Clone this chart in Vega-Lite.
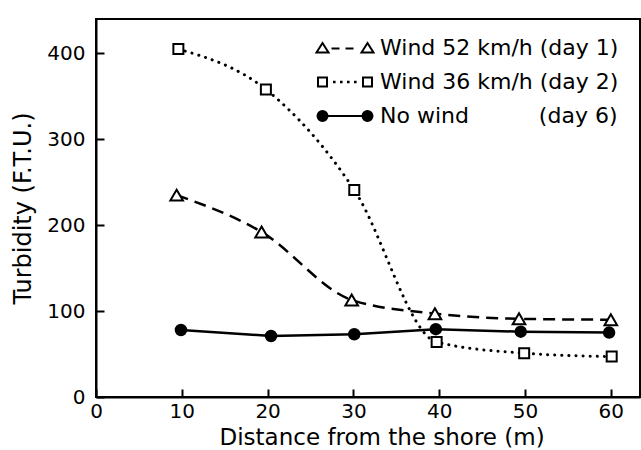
{
  "$schema": "https://vega.github.io/schema/vega-lite/v6.json",
  "width": 544,
  "height": 378,
  "autosize": {"type": "none"},
  "padding": {"left": 96, "top": 19, "right": 1, "bottom": 53},
  "background": "white",
  "config": {
    "view": {"stroke": "black", "strokeWidth": 2},
    "font": "DejaVu Sans",
    "axis": {
      "domainColor": "black",
      "domainWidth": 2,
      "tickColor": "black",
      "tickWidth": 2,
      "tickSize": -8,
      "grid": false,
      "labelColor": "black",
      "labelFont": "DejaVu Sans",
      "labelFontSize": 20,
      "labelFlush": false,
      "labelOverlap": false,
      "titleColor": "black",
      "titleFont": "DejaVu Sans",
      "titleFontSize": 23,
      "titleFontWeight": "normal"
    },
    "legend": {
      "orient": "none",
      "legendX": 238,
      "legendY": 18,
      "padding": 0,
      "labelFont": "DejaVu Sans",
      "labelFontSize": 22,
      "labelColor": "black",
      "labelLimit": 0,
      "labelOffset": 24,
      "rowPadding": 12,
      "symbolSize": 400,
      "symbolOpacity": 1,
      "symbolStrokeWidth": 2
    }
  },
  "data": {
    "values": [
      {"series": "Wind 52 km/h (day 1)", "distance": 9.4, "turbidity": 235},
      {"series": "Wind 52 km/h (day 1)", "distance": 19.3, "turbidity": 192},
      {"series": "Wind 52 km/h (day 1)", "distance": 29.8, "turbidity": 113},
      {"series": "Wind 52 km/h (day 1)", "distance": 39.5, "turbidity": 97},
      {"series": "Wind 52 km/h (day 1)", "distance": 49.3, "turbidity": 91},
      {"series": "Wind 52 km/h (day 1)", "distance": 60.0, "turbidity": 90},
      {"series": "Wind 36 km/h (day 2)", "distance": 9.6, "turbidity": 405},
      {"series": "Wind 36 km/h (day 2)", "distance": 19.8, "turbidity": 358},
      {"series": "Wind 36 km/h (day 2)", "distance": 30.1, "turbidity": 241},
      {"series": "Wind 36 km/h (day 2)", "distance": 39.7, "turbidity": 64},
      {"series": "Wind 36 km/h (day 2)", "distance": 49.9, "turbidity": 51},
      {"series": "Wind 36 km/h (day 2)", "distance": 60.1, "turbidity": 47},
      {"series": "No wind (day 6)", "distance": 9.9, "turbidity": 78},
      {"series": "No wind (day 6)", "distance": 20.4, "turbidity": 71},
      {"series": "No wind (day 6)", "distance": 30.1, "turbidity": 73},
      {"series": "No wind (day 6)", "distance": 39.6, "turbidity": 79},
      {"series": "No wind (day 6)", "distance": 49.5, "turbidity": 76},
      {"series": "No wind (day 6)", "distance": 59.8, "turbidity": 75}
    ]
  },
  "encoding": {
    "x": {
      "field": "distance",
      "type": "quantitative",
      "scale": {"domain": [0, 63.4], "nice": false, "zero": false},
      "axis": {"title": "Distance from the shore (m)", "values": [0, 10, 20, 30, 40, 50, 60], "labelPadding": 12, "titlePadding": 5, "titleFontSize": 23, "titleAnchor": "start", "titleAlign": "left", "titleX": 123}
    },
    "y": {
      "field": "turbidity",
      "type": "quantitative",
      "scale": {"domain": [0, 440], "nice": false, "zero": false},
      "axis": {"title": "Turbidity (F.T.U.)", "values": [0, 100, 200, 300, 400], "labelPadding": 19, "titlePadding": 11, "titleFontSize": 24}
    }
  },
  "layer": [
    {
      "transform": [{"filter": "datum.series == 'Wind 52 km/h (day 1)'"}],
      "mark": {"type": "line", "interpolate": "monotone", "color": "black", "strokeWidth": 2.5, "strokeDash": [12, 7]}
    },
    {
      "transform": [{"filter": "datum.series == 'Wind 36 km/h (day 2)'"}],
      "mark": {"type": "line", "interpolate": "monotone", "color": "black", "strokeWidth": 3, "strokeDash": [0.1, 7], "strokeCap": "round"}
    },
    {
      "transform": [{"filter": "datum.series == 'No wind (day 6)'"}],
      "mark": {"type": "line", "color": "black", "strokeWidth": 2.5}
    },
    {
      "transform": [{"filter": "datum.series == 'Wind 52 km/h (day 1)'"}],
      "mark": {"type": "point", "shape": "triangle-up", "size": 160, "filled": true, "fill": "white", "stroke": "black", "strokeWidth": 2, "opacity": 1}
    },
    {
      "transform": [{"filter": "datum.series == 'Wind 36 km/h (day 2)'"}],
      "mark": {"type": "point", "shape": "square", "size": 100, "filled": true, "fill": "white", "stroke": "black", "strokeWidth": 2, "opacity": 1}
    },
    {
      "transform": [{"filter": "datum.series == 'No wind (day 6)'"}],
      "mark": {"type": "point", "shape": "circle", "size": 110, "filled": true, "fill": "black", "stroke": "black", "strokeWidth": 2, "opacity": 1}
    },
    {
      "mark": {"type": "point", "filled": true, "strokeWidth": 2, "opacity": 0, "size": 400},
      "encoding": {
        "shape": {
          "field": "series",
          "type": "nominal",
          "scale": {
            "domain": ["Wind 52 km/h (day 1)", "Wind 36 km/h (day 2)", "No wind (day 6)"],
            "range": [
              "M-2.25,-0.5L-1.65,0.45L-2.85,0.45ZM2.25,-0.5L2.85,0.45L1.65,0.45ZM-1.35,0.05L-0.55,0.05M0.05,0.05L0.85,0.05",
              "M-2.7,-0.45H-1.8V0.45H-2.7ZM1.8,-0.45H2.7V0.45H1.8ZM-1.1,-0.03h0.06v0.06h-0.06ZM-0.4,-0.03h0.06v0.06h-0.06ZM0.3,-0.03h0.06v0.06h-0.06ZM1.0,-0.03h0.06v0.06h-0.06Z",
              "M-2.75,0A0.5,0.5 0 1,0 -1.75,0A0.5,0.5 0 1,0 -2.75,0ZM1.75,0A0.5,0.5 0 1,0 2.75,0A0.5,0.5 0 1,0 1.75,0ZM-1.75,0L1.75,0"
            ]
          },
          "legend": {
            "title": null,
            "labelExpr": "datum.label == 'No wind (day 6)' ? 'No wind\u00a0\u00a0\u00a0\u00a0\u00a0\u00a0\u00a0\u00a0\u00a0\u00a0(day 6)' : datum.label"
          }
        },
        "fill": {
          "field": "series",
          "type": "nominal",
          "scale": {
            "domain": ["Wind 52 km/h (day 1)", "Wind 36 km/h (day 2)", "No wind (day 6)"],
            "range": ["white", "white", "black"]
          },
          "legend": {
            "title": null,
            "labelExpr": "datum.label == 'No wind (day 6)' ? 'No wind\u00a0\u00a0\u00a0\u00a0\u00a0\u00a0\u00a0\u00a0\u00a0\u00a0(day 6)' : datum.label"
          }
        },
        "stroke": {
          "field": "series",
          "type": "nominal",
          "scale": {
            "domain": ["Wind 52 km/h (day 1)", "Wind 36 km/h (day 2)", "No wind (day 6)"],
            "range": ["black", "black", "black"]
          },
          "legend": {
            "title": null,
            "labelExpr": "datum.label == 'No wind (day 6)' ? 'No wind\u00a0\u00a0\u00a0\u00a0\u00a0\u00a0\u00a0\u00a0\u00a0\u00a0(day 6)' : datum.label"
          }
        }
      }
    }
  ]
}
